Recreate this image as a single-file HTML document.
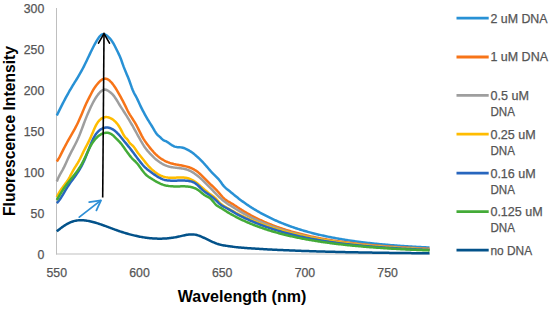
<!DOCTYPE html>
<html><head><meta charset="utf-8"><style>
html,body{margin:0;padding:0;background:#fff;overflow:hidden;width:550px;height:309px;}
svg{display:block;}
text{font-family:"Liberation Sans", sans-serif;}
</style></head><body>
<svg width="550" height="309" viewBox="0 0 550 309">
<rect width="550" height="309" fill="#fff"/>
<g stroke="#BFBFBF" stroke-width="1" fill="none">
<line x1="56.5" y1="8" x2="56.5" y2="254.5"/>
<line x1="56" y1="254" x2="430" y2="254"/>
</g>
<g font-size="12.3" fill="#555" stroke="#555" stroke-width="0.25">
<text x="44.3" y="12.5" text-anchor="end">300</text>
<text x="44.3" y="53.6" text-anchor="end">250</text>
<text x="44.3" y="94.7" text-anchor="end">200</text>
<text x="44.3" y="135.8" text-anchor="end">150</text>
<text x="44.3" y="176.9" text-anchor="end">100</text>
<text x="44.3" y="218.0" text-anchor="end">50</text>
<text x="44.3" y="259.1" text-anchor="end">0</text>
<text x="56.8" y="276.5" text-anchor="middle">550</text>
<text x="139.5" y="276.5" text-anchor="middle">600</text>
<text x="222.2" y="276.5" text-anchor="middle">650</text>
<text x="304.9" y="276.5" text-anchor="middle">700</text>
<text x="387.6" y="276.5" text-anchor="middle">750</text>

</g>
<g fill="none" stroke-width="2.5" stroke-linejoin="round" stroke-linecap="butt">
<path d="M56.80 115.50 L57.80 113.44 L58.80 111.40 L59.80 109.38 L60.80 107.37 L61.80 105.39 L62.80 103.43 L63.80 101.50 L64.80 99.59 L65.80 97.71 L66.80 95.85 L67.80 94.03 L68.80 92.24 L69.80 90.49 L70.80 88.77 L71.80 87.08 L72.80 85.43 L73.80 83.81 L74.80 82.20 L75.80 80.59 L76.80 78.97 L77.80 77.33 L78.80 75.67 L79.80 73.97 L80.80 72.21 L81.80 70.40 L82.80 68.51 L83.80 66.56 L84.80 64.55 L85.80 62.50 L86.80 60.42 L87.80 58.32 L88.80 56.21 L89.80 54.11 L90.80 52.03 L91.80 49.98 L92.80 47.98 L93.80 46.03 L94.80 44.16 L95.80 42.36 L96.80 40.66 L97.80 39.07 L98.80 37.60 L99.80 36.33 L100.80 35.29 L101.80 34.54 L102.80 34.15 L103.80 34.13 L104.80 34.41 L105.80 34.92 L106.80 35.59 L107.80 36.38 L108.80 37.30 L109.80 38.36 L110.80 39.56 L111.80 40.92 L112.80 42.45 L113.80 44.15 L114.80 46.00 L115.80 47.96 L116.80 49.99 L117.80 52.04 L118.80 54.10 L119.80 56.27 L120.80 58.70 L121.80 61.47 L122.80 64.38 L123.80 67.13 L124.80 69.66 L125.80 72.05 L126.80 74.39 L127.80 76.77 L128.80 79.27 L129.80 81.98 L130.80 84.84 L131.80 87.68 L132.80 90.28 L133.80 92.49 L134.80 94.35 L135.80 96.11 L136.80 98.00 L137.80 100.12 L138.80 102.36 L139.80 104.56 L140.80 106.65 L141.80 108.66 L142.80 110.59 L143.80 112.46 L144.80 114.28 L145.80 116.07 L146.80 117.82 L147.80 119.53 L148.80 121.20 L149.80 122.81 L150.80 124.40 L151.80 126.00 L152.80 127.64 L153.80 129.35 L154.80 131.07 L155.80 132.67 L156.80 134.05 L157.80 135.15 L158.80 136.07 L159.80 136.91 L160.80 137.79 L161.80 138.77 L162.80 139.71 L163.80 140.38 L164.80 140.79 L165.80 141.19 L166.80 141.71 L167.80 142.32 L168.80 143.00 L169.80 143.71 L170.80 144.41 L171.80 145.09 L172.80 145.70 L173.80 146.22 L174.80 146.62 L175.80 146.88 L176.80 147.05 L177.80 147.15 L178.80 147.22 L179.80 147.28 L180.80 147.38 L181.80 147.54 L182.80 147.76 L183.80 148.05 L184.80 148.41 L185.80 148.82 L186.80 149.28 L187.80 149.80 L188.80 150.37 L189.80 150.98 L190.80 151.64 L191.80 152.34 L192.80 153.07 L193.80 153.84 L194.80 154.64 L195.80 155.47 L196.80 156.34 L197.80 157.24 L198.80 158.17 L199.80 159.13 L200.80 160.12 L201.80 161.13 L202.80 162.18 L203.80 163.25 L204.80 164.34 L205.80 165.46 L206.80 166.60 L207.80 167.77 L208.80 168.94 L209.80 170.11 L210.80 171.26 L211.80 172.38 L212.80 173.45 L213.80 174.47 L214.80 175.43 L215.80 176.38 L216.80 177.34 L217.80 178.36 L218.80 179.46 L219.80 180.69 L220.80 182.07 L221.80 183.51 L222.80 184.90 L223.80 186.12 L224.80 187.16 L225.80 188.10 L226.80 188.95 L227.80 189.76 L228.80 190.55 L229.80 191.35 L230.80 192.16 L231.80 192.98 L232.80 193.80 L233.80 194.63 L234.80 195.46 L235.80 196.28 L236.80 197.08 L237.80 197.86 L238.80 198.64 L239.80 199.40 L240.80 200.15 L241.80 200.89 L242.80 201.62 L243.80 202.34 L244.80 203.05 L245.80 203.74 L246.80 204.43 L247.80 205.11 L248.80 205.77 L249.80 206.43 L250.80 207.08 L251.80 207.71 L252.80 208.34 L253.80 208.96 L254.80 209.57 L255.80 210.17 L256.80 210.76 L257.80 211.35 L258.80 211.92 L259.80 212.49 L260.80 213.05 L261.80 213.60 L262.80 214.14 L263.80 214.67 L264.80 215.20 L265.80 215.72 L266.80 216.23 L267.80 216.73 L268.80 217.23 L269.80 217.72 L270.80 218.20 L271.80 218.67 L272.80 219.14 L273.80 219.60 L274.80 220.06 L275.80 220.50 L276.80 220.95 L277.80 221.38 L278.80 221.81 L279.80 222.23 L280.80 222.65 L281.80 223.06 L282.80 223.46 L283.80 223.86 L284.80 224.25 L285.80 224.64 L286.80 225.02 L287.80 225.39 L288.80 225.76 L289.80 226.12 L290.80 226.48 L291.80 226.84 L292.80 227.19 L293.80 227.53 L294.80 227.87 L295.80 228.20 L296.80 228.53 L297.80 228.85 L298.80 229.17 L299.80 229.49 L300.80 229.80 L301.80 230.10 L302.80 230.40 L303.80 230.70 L304.80 230.99 L305.80 231.28 L306.80 231.56 L307.80 231.84 L308.80 232.12 L309.80 232.39 L310.80 232.65 L311.80 232.92 L312.80 233.18 L313.80 233.43 L314.80 233.68 L315.80 233.93 L316.80 234.18 L317.80 234.42 L318.80 234.66 L319.80 234.89 L320.80 235.12 L321.80 235.35 L322.80 235.57 L323.80 235.79 L324.80 236.01 L325.80 236.23 L326.80 236.44 L327.80 236.64 L328.80 236.85 L329.80 237.05 L330.80 237.25 L331.80 237.45 L332.80 237.64 L333.80 237.83 L334.80 238.02 L335.80 238.20 L336.80 238.39 L337.80 238.57 L338.80 238.74 L339.80 238.92 L340.80 239.09 L341.80 239.26 L342.80 239.42 L343.80 239.59 L344.80 239.75 L345.80 239.91 L346.80 240.07 L347.80 240.22 L348.80 240.38 L349.80 240.53 L350.80 240.67 L351.80 240.82 L352.80 240.97 L353.80 241.11 L354.80 241.25 L355.80 241.38 L356.80 241.52 L357.80 241.65 L358.80 241.79 L359.80 241.92 L360.80 242.04 L361.80 242.17 L362.80 242.29 L363.80 242.42 L364.80 242.54 L365.80 242.66 L366.80 242.77 L367.80 242.89 L368.80 243.00 L369.80 243.11 L370.80 243.23 L371.80 243.33 L372.80 243.44 L373.80 243.55 L374.80 243.65 L375.80 243.75 L376.80 243.86 L377.80 243.95 L378.80 244.05 L379.80 244.15 L380.80 244.25 L381.80 244.34 L382.80 244.43 L383.80 244.52 L384.80 244.61 L385.80 244.70 L386.80 244.79 L387.80 244.87 L388.80 244.96 L389.80 245.04 L390.80 245.13 L391.80 245.21 L392.80 245.29 L393.80 245.37 L394.80 245.44 L395.80 245.52 L396.80 245.59 L397.80 245.67 L398.80 245.74 L399.80 245.81 L400.80 245.88 L401.80 245.95 L402.80 246.02 L403.80 246.09 L404.80 246.16 L405.80 246.22 L406.80 246.29 L407.80 246.35 L408.80 246.42 L409.80 246.48 L410.80 246.54 L411.80 246.60 L412.80 246.66 L413.80 246.72 L414.80 246.78 L415.80 246.83 L416.80 246.89 L417.80 246.95 L418.80 247.00 L419.80 247.05 L420.80 247.11 L421.80 247.16 L422.80 247.21 L423.80 247.26 L424.80 247.31 L425.80 247.36 L426.80 247.41 L427.80 247.46 L428.80 247.50 L429.50 247.54" stroke="#2891D5"/>
<path d="M56.80 161.50 L57.80 160.01 L58.80 158.35 L59.80 156.55 L60.80 154.65 L61.80 152.68 L62.80 150.67 L63.80 148.68 L64.80 146.72 L65.80 144.83 L66.80 142.99 L67.80 141.20 L68.80 139.43 L69.80 137.69 L70.80 135.95 L71.80 134.20 L72.80 132.44 L73.80 130.65 L74.80 128.81 L75.80 126.92 L76.80 124.96 L77.80 122.93 L78.80 120.80 L79.80 118.57 L80.80 116.26 L81.80 113.89 L82.80 111.50 L83.80 109.12 L84.80 106.78 L85.80 104.51 L86.80 102.34 L87.80 100.30 L88.80 98.34 L89.80 96.43 L90.80 94.50 L91.80 92.54 L92.80 90.67 L93.80 88.97 L94.80 87.44 L95.80 86.03 L96.80 84.75 L97.80 83.56 L98.80 82.45 L99.80 81.44 L100.80 80.54 L101.80 79.79 L102.80 79.20 L103.80 78.80 L104.80 78.62 L105.80 78.66 L106.80 78.92 L107.80 79.37 L108.80 80.00 L109.80 80.81 L110.80 81.78 L111.80 82.89 L112.80 84.13 L113.80 85.49 L114.80 86.95 L115.80 88.51 L116.80 90.14 L117.80 91.84 L118.80 93.59 L119.80 95.38 L120.80 97.20 L121.80 99.04 L122.80 100.92 L123.80 102.85 L124.80 104.83 L125.80 106.88 L126.80 108.95 L127.80 110.98 L128.80 112.88 L129.80 114.59 L130.80 116.16 L131.80 117.68 L132.80 119.22 L133.80 120.80 L134.80 122.44 L135.80 124.16 L136.80 125.96 L137.80 127.87 L138.80 129.86 L139.80 131.88 L140.80 133.89 L141.80 135.83 L142.80 137.65 L143.80 139.33 L144.80 140.89 L145.80 142.35 L146.80 143.73 L147.80 145.06 L148.80 146.35 L149.80 147.61 L150.80 148.84 L151.80 150.02 L152.80 151.17 L153.80 152.27 L154.80 153.31 L155.80 154.31 L156.80 155.25 L157.80 156.12 L158.80 156.94 L159.80 157.71 L160.80 158.42 L161.80 159.09 L162.80 159.70 L163.80 160.27 L164.80 160.80 L165.80 161.29 L166.80 161.74 L167.80 162.15 L168.80 162.53 L169.80 162.88 L170.80 163.20 L171.80 163.49 L172.80 163.76 L173.80 164.01 L174.80 164.23 L175.80 164.44 L176.80 164.64 L177.80 164.82 L178.80 165.00 L179.80 165.17 L180.80 165.34 L181.80 165.52 L182.80 165.70 L183.80 165.90 L184.80 166.11 L185.80 166.35 L186.80 166.60 L187.80 166.89 L188.80 167.20 L189.80 167.55 L190.80 167.94 L191.80 168.37 L192.80 168.85 L193.80 169.38 L194.80 169.96 L195.80 170.60 L196.80 171.30 L197.80 172.07 L198.80 172.89 L199.80 173.76 L200.80 174.67 L201.80 175.62 L202.80 176.60 L203.80 177.59 L204.80 178.60 L205.80 179.61 L206.80 180.62 L207.80 181.62 L208.80 182.61 L209.80 183.58 L210.80 184.54 L211.80 185.50 L212.80 186.46 L213.80 187.43 L214.80 188.41 L215.80 189.41 L216.80 190.44 L217.80 191.51 L218.80 192.61 L219.80 193.75 L220.80 194.95 L221.80 196.15 L222.80 197.27 L223.80 198.26 L224.80 199.12 L225.80 199.89 L226.80 200.58 L227.80 201.22 L228.80 201.82 L229.80 202.40 L230.80 202.99 L231.80 203.58 L232.80 204.18 L233.80 204.81 L234.80 205.45 L235.80 206.13 L236.80 206.80 L237.80 207.47 L238.80 208.12 L239.80 208.77 L240.80 209.40 L241.80 210.03 L242.80 210.64 L243.80 211.25 L244.80 211.84 L245.80 212.43 L246.80 213.01 L247.80 213.58 L248.80 214.14 L249.80 214.69 L250.80 215.24 L251.80 215.77 L252.80 216.30 L253.80 216.82 L254.80 217.33 L255.80 217.83 L256.80 218.33 L257.80 218.81 L258.80 219.30 L259.80 219.77 L260.80 220.23 L261.80 220.69 L262.80 221.15 L263.80 221.59 L264.80 222.03 L265.80 222.46 L266.80 222.89 L267.80 223.30 L268.80 223.72 L269.80 224.12 L270.80 224.52 L271.80 224.91 L272.80 225.30 L273.80 225.68 L274.80 226.06 L275.80 226.43 L276.80 226.80 L277.80 227.15 L278.80 227.51 L279.80 227.86 L280.80 228.20 L281.80 228.54 L282.80 228.87 L283.80 229.20 L284.80 229.52 L285.80 229.84 L286.80 230.15 L287.80 230.46 L288.80 230.77 L289.80 231.06 L290.80 231.36 L291.80 231.65 L292.80 231.94 L293.80 232.22 L294.80 232.50 L295.80 232.77 L296.80 233.04 L297.80 233.30 L298.80 233.56 L299.80 233.82 L300.80 234.08 L301.80 234.33 L302.80 234.57 L303.80 234.81 L304.80 235.05 L305.80 235.29 L306.80 235.52 L307.80 235.75 L308.80 235.97 L309.80 236.19 L310.80 236.41 L311.80 236.63 L312.80 236.84 L313.80 237.05 L314.80 237.25 L315.80 237.46 L316.80 237.66 L317.80 237.85 L318.80 238.05 L319.80 238.24 L320.80 238.43 L321.80 238.61 L322.80 238.79 L323.80 238.97 L324.80 239.15 L325.80 239.33 L326.80 239.50 L327.80 239.67 L328.80 239.84 L329.80 240.00 L330.80 240.16 L331.80 240.32 L332.80 240.48 L333.80 240.64 L334.80 240.79 L335.80 240.94 L336.80 241.09 L337.80 241.24 L338.80 241.38 L339.80 241.52 L340.80 241.66 L341.80 241.80 L342.80 241.94 L343.80 242.07 L344.80 242.21 L345.80 242.34 L346.80 242.47 L347.80 242.59 L348.80 242.72 L349.80 242.84 L350.80 242.96 L351.80 243.08 L352.80 243.20 L353.80 243.32 L354.80 243.43 L355.80 243.55 L356.80 243.66 L357.80 243.77 L358.80 243.88 L359.80 243.99 L360.80 244.09 L361.80 244.20 L362.80 244.30 L363.80 244.40 L364.80 244.50 L365.80 244.60 L366.80 244.70 L367.80 244.79 L368.80 244.89 L369.80 244.98 L370.80 245.07 L371.80 245.16 L372.80 245.25 L373.80 245.34 L374.80 245.43 L375.80 245.51 L376.80 245.60 L377.80 245.68 L378.80 245.76 L379.80 245.84 L380.80 245.92 L381.80 246.00 L382.80 246.08 L383.80 246.16 L384.80 246.23 L385.80 246.31 L386.80 246.38 L387.80 246.46 L388.80 246.53 L389.80 246.60 L390.80 246.67 L391.80 246.74 L392.80 246.81 L393.80 246.88 L394.80 246.94 L395.80 247.01 L396.80 247.07 L397.80 247.14 L398.80 247.20 L399.80 247.26 L400.80 247.32 L401.80 247.38 L402.80 247.44 L403.80 247.50 L404.80 247.56 L405.80 247.62 L406.80 247.68 L407.80 247.73 L408.80 247.79 L409.80 247.84 L410.80 247.90 L411.80 247.95 L412.80 248.00 L413.80 248.06 L414.80 248.11 L415.80 248.16 L416.80 248.21 L417.80 248.26 L418.80 248.31 L419.80 248.36 L420.80 248.41 L421.80 248.45 L422.80 248.50 L423.80 248.55 L424.80 248.59 L425.80 248.64 L426.80 248.68 L427.80 248.72 L428.80 248.77 L429.50 248.80" stroke="#F77418"/>
<path d="M56.80 181.50 L57.80 178.99 L58.80 176.82 L59.80 174.89 L60.80 173.10 L61.80 171.36 L62.80 169.59 L63.80 167.68 L64.80 165.62 L65.80 163.47 L66.80 161.26 L67.80 159.05 L68.80 156.90 L69.80 154.84 L70.80 152.87 L71.80 150.95 L72.80 149.05 L73.80 147.16 L74.80 145.24 L75.80 143.28 L76.80 141.23 L77.80 139.09 L78.80 136.81 L79.80 134.38 L80.80 131.81 L81.80 129.15 L82.80 126.46 L83.80 123.79 L84.80 121.17 L85.80 118.62 L86.80 116.14 L87.80 113.73 L88.80 111.41 L89.80 109.17 L90.80 107.01 L91.80 104.96 L92.80 103.00 L93.80 101.14 L94.80 99.40 L95.80 97.76 L96.80 96.25 L97.80 94.86 L98.80 93.60 L99.80 92.48 L100.80 91.50 L101.80 90.71 L102.80 90.11 L103.80 89.74 L104.80 89.61 L105.80 89.73 L106.80 90.06 L107.80 90.56 L108.80 91.19 L109.80 91.91 L110.80 92.72 L111.80 93.64 L112.80 94.68 L113.80 95.86 L114.80 97.20 L115.80 98.68 L116.80 100.27 L117.80 101.92 L118.80 103.60 L119.80 105.25 L120.80 106.85 L121.80 108.40 L122.80 109.92 L123.80 111.46 L124.80 113.01 L125.80 114.58 L126.80 116.18 L127.80 117.79 L128.80 119.43 L129.80 121.09 L130.80 122.78 L131.80 124.50 L132.80 126.24 L133.80 128.02 L134.80 129.82 L135.80 131.66 L136.80 133.50 L137.80 135.34 L138.80 137.17 L139.80 138.97 L140.80 140.74 L141.80 142.45 L142.80 144.11 L143.80 145.70 L144.80 147.20 L145.80 148.60 L146.80 149.90 L147.80 151.09 L148.80 152.20 L149.80 153.28 L150.80 154.34 L151.80 155.39 L152.80 156.42 L153.80 157.41 L154.80 158.35 L155.80 159.23 L156.80 160.07 L157.80 160.85 L158.80 161.59 L159.80 162.28 L160.80 162.92 L161.80 163.52 L162.80 164.07 L163.80 164.58 L164.80 165.05 L165.80 165.47 L166.80 165.85 L167.80 166.19 L168.80 166.49 L169.80 166.76 L170.80 166.98 L171.80 167.18 L172.80 167.35 L173.80 167.49 L174.80 167.62 L175.80 167.74 L176.80 167.85 L177.80 167.95 L178.80 168.06 L179.80 168.17 L180.80 168.30 L181.80 168.44 L182.80 168.61 L183.80 168.79 L184.80 169.01 L185.80 169.27 L186.80 169.56 L187.80 169.90 L188.80 170.29 L189.80 170.74 L190.80 171.23 L191.80 171.78 L192.80 172.37 L193.80 173.01 L194.80 173.69 L195.80 174.41 L196.80 175.17 L197.80 175.96 L198.80 176.79 L199.80 177.64 L200.80 178.53 L201.80 179.44 L202.80 180.37 L203.80 181.33 L204.80 182.30 L205.80 183.29 L206.80 184.30 L207.80 185.31 L208.80 186.34 L209.80 187.37 L210.80 188.40 L211.80 189.44 L212.80 190.47 L213.80 191.51 L214.80 192.53 L215.80 193.55 L216.80 194.56 L217.80 195.56 L218.80 196.54 L219.80 197.50 L220.80 198.44 L221.80 199.36 L222.80 200.24 L223.80 201.06 L224.80 201.84 L225.80 202.58 L226.80 203.28 L227.80 203.95 L228.80 204.58 L229.80 205.19 L230.80 205.79 L231.80 206.40 L232.80 207.01 L233.80 207.63 L234.80 208.28 L235.80 208.94 L236.80 209.56 L237.80 210.17 L238.80 210.77 L239.80 211.35 L240.80 211.94 L241.80 212.51 L242.80 213.07 L243.80 213.63 L244.80 214.17 L245.80 214.71 L246.80 215.25 L247.80 215.77 L248.80 216.29 L249.80 216.80 L250.80 217.30 L251.80 217.79 L252.80 218.28 L253.80 218.76 L254.80 219.24 L255.80 219.70 L256.80 220.16 L257.80 220.62 L258.80 221.06 L259.80 221.50 L260.80 221.94 L261.80 222.37 L262.80 222.79 L263.80 223.21 L264.80 223.62 L265.80 224.02 L266.80 224.42 L267.80 224.81 L268.80 225.20 L269.80 225.58 L270.80 225.96 L271.80 226.33 L272.80 226.69 L273.80 227.05 L274.80 227.41 L275.80 227.76 L276.80 228.10 L277.80 228.44 L278.80 228.78 L279.80 229.11 L280.80 229.43 L281.80 229.75 L282.80 230.07 L283.80 230.38 L284.80 230.69 L285.80 230.99 L286.80 231.29 L287.80 231.58 L288.80 231.87 L289.80 232.16 L290.80 232.44 L291.80 232.72 L292.80 232.99 L293.80 233.26 L294.80 233.53 L295.80 233.79 L296.80 234.05 L297.80 234.30 L298.80 234.55 L299.80 234.80 L300.80 235.05 L301.80 235.29 L302.80 235.52 L303.80 235.76 L304.80 235.99 L305.80 236.21 L306.80 236.44 L307.80 236.66 L308.80 236.88 L309.80 237.09 L310.80 237.30 L311.80 237.51 L312.80 237.71 L313.80 237.92 L314.80 238.11 L315.80 238.31 L316.80 238.50 L317.80 238.70 L318.80 238.88 L319.80 239.07 L320.80 239.25 L321.80 239.43 L322.80 239.61 L323.80 239.78 L324.80 239.96 L325.80 240.13 L326.80 240.29 L327.80 240.46 L328.80 240.62 L329.80 240.78 L330.80 240.94 L331.80 241.10 L332.80 241.25 L333.80 241.40 L334.80 241.55 L335.80 241.70 L336.80 241.84 L337.80 241.99 L338.80 242.13 L339.80 242.27 L340.80 242.40 L341.80 242.54 L342.80 242.67 L343.80 242.80 L344.80 242.93 L345.80 243.06 L346.80 243.18 L347.80 243.31 L348.80 243.43 L349.80 243.55 L350.80 243.67 L351.80 243.78 L352.80 243.90 L353.80 244.01 L354.80 244.12 L355.80 244.23 L356.80 244.34 L357.80 244.45 L358.80 244.56 L359.80 244.66 L360.80 244.76 L361.80 244.86 L362.80 244.96 L363.80 245.06 L364.80 245.16 L365.80 245.25 L366.80 245.35 L367.80 245.44 L368.80 245.53 L369.80 245.62 L370.80 245.71 L371.80 245.80 L372.80 245.88 L373.80 245.97 L374.80 246.05 L375.80 246.14 L376.80 246.22 L377.80 246.30 L378.80 246.38 L379.80 246.45 L380.80 246.53 L381.80 246.61 L382.80 246.68 L383.80 246.75 L384.80 246.83 L385.80 246.90 L386.80 246.97 L387.80 247.04 L388.80 247.11 L389.80 247.17 L390.80 247.24 L391.80 247.31 L392.80 247.37 L393.80 247.43 L394.80 247.50 L395.80 247.56 L396.80 247.62 L397.80 247.68 L398.80 247.74 L399.80 247.80 L400.80 247.86 L401.80 247.91 L402.80 247.97 L403.80 248.02 L404.80 248.08 L405.80 248.13 L406.80 248.18 L407.80 248.24 L408.80 248.29 L409.80 248.34 L410.80 248.39 L411.80 248.44 L412.80 248.49 L413.80 248.53 L414.80 248.58 L415.80 248.63 L416.80 248.67 L417.80 248.72 L418.80 248.76 L419.80 248.80 L420.80 248.85 L421.80 248.89 L422.80 248.93 L423.80 248.97 L424.80 249.01 L425.80 249.05 L426.80 249.09 L427.80 249.13 L428.80 249.17 L429.50 249.20" stroke="#9E9E9E"/>
<path d="M56.80 197.00 L57.80 194.99 L58.80 193.17 L59.80 191.50 L60.80 189.95 L61.80 188.50 L62.80 187.12 L63.80 185.77 L64.80 184.43 L65.80 183.07 L66.80 181.66 L67.80 180.16 L68.80 178.55 L69.80 176.81 L70.80 174.94 L71.80 173.03 L72.80 171.13 L73.80 169.33 L74.80 167.65 L75.80 166.05 L76.80 164.48 L77.80 162.86 L78.80 161.13 L79.80 159.26 L80.80 157.27 L81.80 155.21 L82.80 153.13 L83.80 151.07 L84.80 149.07 L85.80 147.13 L86.80 145.22 L87.80 143.30 L88.80 141.33 L89.80 139.28 L90.80 137.12 L91.80 134.82 L92.80 132.40 L93.80 129.98 L94.80 127.69 L95.80 125.65 L96.80 123.87 L97.80 122.34 L98.80 121.05 L99.80 119.97 L100.80 119.09 L101.80 118.39 L102.80 117.86 L103.80 117.48 L104.80 117.23 L105.80 117.11 L106.80 117.12 L107.80 117.25 L108.80 117.49 L109.80 117.85 L110.80 118.31 L111.80 118.88 L112.80 119.56 L113.80 120.33 L114.80 121.20 L115.80 122.19 L116.80 123.30 L117.80 124.57 L118.80 126.00 L119.80 127.61 L120.80 129.42 L121.80 131.41 L122.80 133.42 L123.80 135.29 L124.80 136.80 L125.80 137.83 L126.80 138.68 L127.80 139.97 L128.80 141.62 L129.80 143.09 L130.80 144.10 L131.80 144.88 L132.80 145.74 L133.80 146.88 L134.80 148.23 L135.80 149.71 L136.80 151.22 L137.80 152.67 L138.80 153.97 L139.80 155.19 L140.80 156.42 L141.80 157.70 L142.80 159.00 L143.80 160.31 L144.80 161.60 L145.80 162.85 L146.80 164.06 L147.80 165.22 L148.80 166.34 L149.80 167.39 L150.80 168.40 L151.80 169.35 L152.80 170.25 L153.80 171.10 L154.80 171.89 L155.80 172.64 L156.80 173.33 L157.80 173.96 L158.80 174.55 L159.80 175.08 L160.80 175.56 L161.80 175.99 L162.80 176.37 L163.80 176.69 L164.80 176.97 L165.80 177.20 L166.80 177.39 L167.80 177.53 L168.80 177.64 L169.80 177.72 L170.80 177.76 L171.80 177.77 L172.80 177.77 L173.80 177.75 L174.80 177.71 L175.80 177.67 L176.80 177.62 L177.80 177.58 L178.80 177.54 L179.80 177.51 L180.80 177.50 L181.80 177.51 L182.80 177.54 L183.80 177.61 L184.80 177.71 L185.80 177.85 L186.80 178.03 L187.80 178.26 L188.80 178.55 L189.80 178.89 L190.80 179.30 L191.80 179.77 L192.80 180.31 L193.80 180.92 L194.80 181.58 L195.80 182.29 L196.80 183.04 L197.80 183.83 L198.80 184.65 L199.80 185.49 L200.80 186.35 L201.80 187.22 L202.80 188.10 L203.80 188.98 L204.80 189.85 L205.80 190.71 L206.80 191.55 L207.80 192.36 L208.80 193.14 L209.80 193.88 L210.80 194.59 L211.80 195.29 L212.80 196.01 L213.80 196.77 L214.80 197.61 L215.80 198.54 L216.80 199.59 L217.80 200.71 L218.80 201.83 L219.80 202.89 L220.80 203.82 L221.80 204.63 L222.80 205.33 L223.80 205.96 L224.80 206.56 L225.80 207.14 L226.80 207.73 L227.80 208.32 L228.80 208.90 L229.80 209.49 L230.80 210.06 L231.80 210.63 L232.80 211.18 L233.80 211.72 L234.80 212.25 L235.80 212.76 L236.80 213.28 L237.80 213.79 L238.80 214.29 L239.80 214.79 L240.80 215.28 L241.80 215.76 L242.80 216.24 L243.80 216.71 L244.80 217.17 L245.80 217.63 L246.80 218.09 L247.80 218.53 L248.80 218.98 L249.80 219.41 L250.80 219.84 L251.80 220.27 L252.80 220.69 L253.80 221.10 L254.80 221.51 L255.80 221.91 L256.80 222.31 L257.80 222.70 L258.80 223.09 L259.80 223.47 L260.80 223.85 L261.80 224.22 L262.80 224.59 L263.80 224.96 L264.80 225.32 L265.80 225.67 L266.80 226.02 L267.80 226.37 L268.80 226.71 L269.80 227.04 L270.80 227.38 L271.80 227.70 L272.80 228.03 L273.80 228.35 L274.80 228.66 L275.80 228.97 L276.80 229.28 L277.80 229.58 L278.80 229.88 L279.80 230.18 L280.80 230.47 L281.80 230.76 L282.80 231.04 L283.80 231.32 L284.80 231.60 L285.80 231.88 L286.80 232.15 L287.80 232.41 L288.80 232.68 L289.80 232.93 L290.80 233.19 L291.80 233.44 L292.80 233.69 L293.80 233.94 L294.80 234.18 L295.80 234.43 L296.80 234.66 L297.80 234.90 L298.80 235.13 L299.80 235.36 L300.80 235.58 L301.80 235.80 L302.80 236.02 L303.80 236.24 L304.80 236.45 L305.80 236.67 L306.80 236.87 L307.80 237.08 L308.80 237.28 L309.80 237.48 L310.80 237.68 L311.80 237.88 L312.80 238.07 L313.80 238.26 L314.80 238.45 L315.80 238.63 L316.80 238.82 L317.80 239.00 L318.80 239.18 L319.80 239.35 L320.80 239.53 L321.80 239.70 L322.80 239.87 L323.80 240.04 L324.80 240.20 L325.80 240.36 L326.80 240.53 L327.80 240.68 L328.80 240.84 L329.80 241.00 L330.80 241.15 L331.80 241.30 L332.80 241.45 L333.80 241.60 L334.80 241.74 L335.80 241.88 L336.80 242.03 L337.80 242.17 L338.80 242.30 L339.80 242.44 L340.80 242.57 L341.80 242.71 L342.80 242.84 L343.80 242.97 L344.80 243.09 L345.80 243.22 L346.80 243.34 L347.80 243.47 L348.80 243.59 L349.80 243.71 L350.80 243.83 L351.80 243.94 L352.80 244.06 L353.80 244.17 L354.80 244.28 L355.80 244.39 L356.80 244.50 L357.80 244.61 L358.80 244.72 L359.80 244.82 L360.80 244.93 L361.80 245.03 L362.80 245.13 L363.80 245.23 L364.80 245.33 L365.80 245.43 L366.80 245.52 L367.80 245.62 L368.80 245.71 L369.80 245.80 L370.80 245.89 L371.80 245.98 L372.80 246.07 L373.80 246.16 L374.80 246.25 L375.80 246.33 L376.80 246.42 L377.80 246.50 L378.80 246.58 L379.80 246.66 L380.80 246.74 L381.80 246.82 L382.80 246.90 L383.80 246.98 L384.80 247.05 L385.80 247.13 L386.80 247.20 L387.80 247.27 L388.80 247.35 L389.80 247.42 L390.80 247.49 L391.80 247.56 L392.80 247.63 L393.80 247.69 L394.80 247.76 L395.80 247.83 L396.80 247.89 L397.80 247.96 L398.80 248.02 L399.80 248.08 L400.80 248.14 L401.80 248.21 L402.80 248.27 L403.80 248.32 L404.80 248.38 L405.80 248.44 L406.80 248.50 L407.80 248.56 L408.80 248.61 L409.80 248.67 L410.80 248.72 L411.80 248.77 L412.80 248.83 L413.80 248.88 L414.80 248.93 L415.80 248.98 L416.80 249.03 L417.80 249.08 L418.80 249.13 L419.80 249.18 L420.80 249.23 L421.80 249.27 L422.80 249.32 L423.80 249.37 L424.80 249.41 L425.80 249.46 L426.80 249.50 L427.80 249.54 L428.80 249.59 L429.50 249.62" stroke="#FFBC00"/>
<path d="M56.80 203.02 L57.80 202.02 L58.80 200.84 L59.80 199.49 L60.80 198.01 L61.80 196.43 L62.80 194.78 L63.80 193.08 L64.80 191.37 L65.80 189.68 L66.80 188.03 L67.80 186.45 L68.80 184.95 L69.80 183.51 L70.80 182.11 L71.80 180.74 L72.80 179.39 L73.80 178.04 L74.80 176.67 L75.80 175.28 L76.80 173.85 L77.80 172.36 L78.80 170.80 L79.80 169.16 L80.80 167.42 L81.80 165.56 L82.80 163.58 L83.80 161.45 L84.80 159.18 L85.80 156.77 L86.80 154.28 L87.80 151.74 L88.80 149.18 L89.80 146.65 L90.80 144.20 L91.80 141.84 L92.80 139.63 L93.80 137.61 L94.80 135.81 L95.80 134.27 L96.80 132.98 L97.80 131.87 L98.80 130.91 L99.80 130.08 L100.80 129.36 L101.80 128.77 L102.80 128.28 L103.80 127.92 L104.80 127.66 L105.80 127.51 L106.80 127.47 L107.80 127.54 L108.80 127.70 L109.80 127.97 L110.80 128.34 L111.80 128.80 L112.80 129.36 L113.80 130.01 L114.80 130.76 L115.80 131.59 L116.80 132.52 L117.80 133.53 L118.80 134.62 L119.80 135.79 L120.80 136.99 L121.80 138.21 L122.80 139.44 L123.80 140.68 L124.80 141.92 L125.80 143.15 L126.80 144.38 L127.80 145.61 L128.80 146.84 L129.80 148.09 L130.80 149.35 L131.80 150.64 L132.80 151.97 L133.80 153.31 L134.80 154.66 L135.80 156.02 L136.80 157.38 L137.80 158.72 L138.80 160.05 L139.80 161.34 L140.80 162.60 L141.80 163.81 L142.80 164.97 L143.80 166.07 L144.80 167.10 L145.80 168.04 L146.80 168.91 L147.80 169.71 L148.80 170.48 L149.80 171.22 L150.80 171.97 L151.80 172.71 L152.80 173.44 L153.80 174.17 L154.80 174.88 L155.80 175.56 L156.80 176.22 L157.80 176.85 L158.80 177.44 L159.80 177.99 L160.80 178.49 L161.80 178.94 L162.80 179.33 L163.80 179.66 L164.80 179.93 L165.80 180.15 L166.80 180.32 L167.80 180.45 L168.80 180.55 L169.80 180.62 L170.80 180.67 L171.80 180.69 L172.80 180.70 L173.80 180.70 L174.80 180.68 L175.80 180.66 L176.80 180.63 L177.80 180.59 L178.80 180.56 L179.80 180.54 L180.80 180.52 L181.80 180.51 L182.80 180.51 L183.80 180.53 L184.80 180.57 L185.80 180.63 L186.80 180.72 L187.80 180.83 L188.80 180.98 L189.80 181.16 L190.80 181.39 L191.80 181.67 L192.80 182.03 L193.80 182.47 L194.80 183.00 L195.80 183.65 L196.80 184.41 L197.80 185.29 L198.80 186.25 L199.80 187.25 L200.80 188.26 L201.80 189.22 L202.80 190.12 L203.80 190.95 L204.80 191.73 L205.80 192.47 L206.80 193.19 L207.80 193.88 L208.80 194.57 L209.80 195.27 L210.80 195.98 L211.80 196.72 L212.80 197.50 L213.80 198.33 L214.80 199.22 L215.80 200.17 L216.80 201.16 L217.80 202.16 L218.80 203.12 L219.80 204.01 L220.80 204.82 L221.80 205.53 L222.80 206.15 L223.80 206.71 L224.80 207.24 L225.80 207.75 L226.80 208.26 L227.80 208.79 L228.80 209.33 L229.80 209.89 L230.80 210.48 L231.80 211.08 L232.80 211.69 L233.80 212.29 L234.80 212.90 L235.80 213.49 L236.80 214.03 L237.80 214.56 L238.80 215.08 L239.80 215.59 L240.80 216.09 L241.80 216.59 L242.80 217.08 L243.80 217.57 L244.80 218.05 L245.80 218.52 L246.80 218.99 L247.80 219.45 L248.80 219.90 L249.80 220.35 L250.80 220.79 L251.80 221.22 L252.80 221.65 L253.80 222.07 L254.80 222.49 L255.80 222.90 L256.80 223.31 L257.80 223.71 L258.80 224.10 L259.80 224.49 L260.80 224.88 L261.80 225.25 L262.80 225.63 L263.80 226.00 L264.80 226.36 L265.80 226.72 L266.80 227.07 L267.80 227.42 L268.80 227.77 L269.80 228.10 L270.80 228.44 L271.80 228.77 L272.80 229.10 L273.80 229.42 L274.80 229.73 L275.80 230.05 L276.80 230.35 L277.80 230.66 L278.80 230.96 L279.80 231.25 L280.80 231.55 L281.80 231.83 L282.80 232.12 L283.80 232.40 L284.80 232.67 L285.80 232.95 L286.80 233.22 L287.80 233.48 L288.80 233.74 L289.80 234.00 L290.80 234.25 L291.80 234.51 L292.80 234.75 L293.80 235.00 L294.80 235.24 L295.80 235.47 L296.80 235.71 L297.80 235.94 L298.80 236.17 L299.80 236.39 L300.80 236.61 L301.80 236.83 L302.80 237.05 L303.80 237.26 L304.80 237.47 L305.80 237.68 L306.80 237.88 L307.80 238.08 L308.80 238.28 L309.80 238.48 L310.80 238.67 L311.80 238.86 L312.80 239.05 L313.80 239.24 L314.80 239.42 L315.80 239.60 L316.80 239.78 L317.80 239.95 L318.80 240.13 L319.80 240.30 L320.80 240.47 L321.80 240.63 L322.80 240.80 L323.80 240.96 L324.80 241.12 L325.80 241.27 L326.80 241.43 L327.80 241.58 L328.80 241.73 L329.80 241.88 L330.80 242.03 L331.80 242.17 L332.80 242.32 L333.80 242.46 L334.80 242.60 L335.80 242.73 L336.80 242.87 L337.80 243.00 L338.80 243.13 L339.80 243.26 L340.80 243.39 L341.80 243.52 L342.80 243.64 L343.80 243.76 L344.80 243.89 L345.80 244.00 L346.80 244.12 L347.80 244.24 L348.80 244.35 L349.80 244.47 L350.80 244.58 L351.80 244.69 L352.80 244.80 L353.80 244.90 L354.80 245.01 L355.80 245.11 L356.80 245.22 L357.80 245.32 L358.80 245.42 L359.80 245.52 L360.80 245.61 L361.80 245.71 L362.80 245.80 L363.80 245.90 L364.80 245.99 L365.80 246.08 L366.80 246.17 L367.80 246.26 L368.80 246.34 L369.80 246.43 L370.80 246.52 L371.80 246.60 L372.80 246.68 L373.80 246.76 L374.80 246.84 L375.80 246.92 L376.80 247.00 L377.80 247.08 L378.80 247.15 L379.80 247.23 L380.80 247.30 L381.80 247.37 L382.80 247.45 L383.80 247.52 L384.80 247.59 L385.80 247.66 L386.80 247.72 L387.80 247.79 L388.80 247.86 L389.80 247.92 L390.80 247.99 L391.80 248.05 L392.80 248.11 L393.80 248.17 L394.80 248.24 L395.80 248.30 L396.80 248.36 L397.80 248.41 L398.80 248.47 L399.80 248.53 L400.80 248.58 L401.80 248.64 L402.80 248.69 L403.80 248.75 L404.80 248.80 L405.80 248.85 L406.80 248.91 L407.80 248.96 L408.80 249.01 L409.80 249.06 L410.80 249.11 L411.80 249.15 L412.80 249.20 L413.80 249.25 L414.80 249.29 L415.80 249.34 L416.80 249.38 L417.80 249.43 L418.80 249.47 L419.80 249.52 L420.80 249.56 L421.80 249.60 L422.80 249.64 L423.80 249.68 L424.80 249.72 L425.80 249.76 L426.80 249.80 L427.80 249.84 L428.80 249.88 L429.50 249.91" stroke="#2866BE"/>
<path d="M56.80 200.00 L57.80 198.32 L58.80 196.64 L59.80 194.96 L60.80 193.31 L61.80 191.69 L62.80 190.10 L63.80 188.55 L64.80 187.06 L65.80 185.63 L66.80 184.26 L67.80 182.96 L68.80 181.70 L69.80 180.47 L70.80 179.26 L71.80 178.05 L72.80 176.83 L73.80 175.59 L74.80 174.33 L75.80 173.02 L76.80 171.67 L77.80 170.27 L78.80 168.80 L79.80 167.25 L80.80 165.62 L81.80 163.90 L82.80 162.07 L83.80 160.14 L84.80 158.09 L85.80 155.94 L86.80 153.75 L87.80 151.58 L88.80 149.46 L89.80 147.46 L90.80 145.61 L91.80 143.92 L92.80 142.37 L93.80 140.96 L94.80 139.69 L95.80 138.54 L96.80 137.51 L97.80 136.59 L98.80 135.78 L99.80 135.07 L100.80 134.46 L101.80 133.93 L102.80 133.49 L103.80 133.14 L104.80 132.89 L105.80 132.75 L106.80 132.71 L107.80 132.79 L108.80 133.00 L109.80 133.33 L110.80 133.79 L111.80 134.39 L112.80 135.14 L113.80 136.03 L114.80 137.04 L115.80 138.04 L116.80 139.02 L117.80 140.01 L118.80 141.05 L119.80 142.15 L120.80 143.33 L121.80 144.60 L122.80 145.94 L123.80 147.33 L124.80 148.74 L125.80 150.18 L126.80 151.60 L127.80 153.00 L128.80 154.36 L129.80 155.66 L130.80 156.89 L131.80 158.01 L132.80 159.05 L133.80 160.03 L134.80 160.99 L135.80 162.00 L136.80 163.07 L137.80 164.26 L138.80 165.55 L139.80 166.90 L140.80 168.29 L141.80 169.68 L142.80 171.03 L143.80 172.31 L144.80 173.50 L145.80 174.55 L146.80 175.45 L147.80 176.24 L148.80 176.95 L149.80 177.62 L150.80 178.27 L151.80 178.91 L152.80 179.54 L153.80 180.15 L154.80 180.75 L155.80 181.33 L156.80 181.89 L157.80 182.42 L158.80 182.92 L159.80 183.40 L160.80 183.84 L161.80 184.24 L162.80 184.60 L163.80 184.93 L164.80 185.21 L165.80 185.46 L166.80 185.67 L167.80 185.85 L168.80 186.00 L169.80 186.12 L170.80 186.21 L171.80 186.29 L172.80 186.34 L173.80 186.38 L174.80 186.40 L175.80 186.41 L176.80 186.41 L177.80 186.41 L178.80 186.40 L179.80 186.38 L180.80 186.37 L181.80 186.36 L182.80 186.36 L183.80 186.36 L184.80 186.37 L185.80 186.40 L186.80 186.46 L187.80 186.53 L188.80 186.64 L189.80 186.79 L190.80 186.97 L191.80 187.20 L192.80 187.49 L193.80 187.82 L194.80 188.22 L195.80 188.69 L196.80 189.22 L197.80 189.83 L198.80 190.53 L199.80 191.30 L200.80 192.14 L201.80 193.00 L202.80 193.83 L203.80 194.59 L204.80 195.25 L205.80 195.80 L206.80 196.31 L207.80 196.81 L208.80 197.37 L209.80 198.04 L210.80 198.88 L211.80 199.91 L212.80 201.08 L213.80 202.30 L214.80 203.50 L215.80 204.58 L216.80 205.48 L217.80 206.19 L218.80 206.78 L219.80 207.34 L220.80 207.90 L221.80 208.50 L222.80 209.13 L223.80 209.77 L224.80 210.42 L225.80 211.06 L226.80 211.70 L227.80 212.32 L228.80 212.92 L229.80 213.51 L230.80 214.07 L231.80 214.63 L232.80 215.18 L233.80 215.73 L234.80 216.27 L235.80 216.81 L236.80 217.33 L237.80 217.84 L238.80 218.34 L239.80 218.83 L240.80 219.31 L241.80 219.79 L242.80 220.26 L243.80 220.72 L244.80 221.18 L245.80 221.63 L246.80 222.07 L247.80 222.50 L248.80 222.93 L249.80 223.35 L250.80 223.77 L251.80 224.18 L252.80 224.58 L253.80 224.97 L254.80 225.36 L255.80 225.75 L256.80 226.13 L257.80 226.50 L258.80 226.87 L259.80 227.23 L260.80 227.59 L261.80 227.94 L262.80 228.29 L263.80 228.63 L264.80 228.96 L265.80 229.29 L266.80 229.62 L267.80 229.94 L268.80 230.26 L269.80 230.57 L270.80 230.88 L271.80 231.18 L272.80 231.48 L273.80 231.77 L274.80 232.06 L275.80 232.35 L276.80 232.63 L277.80 232.91 L278.80 233.18 L279.80 233.45 L280.80 233.71 L281.80 233.97 L282.80 234.23 L283.80 234.49 L284.80 234.74 L285.80 234.98 L286.80 235.23 L287.80 235.47 L288.80 235.70 L289.80 235.94 L290.80 236.17 L291.80 236.39 L292.80 236.62 L293.80 236.84 L294.80 237.05 L295.80 237.27 L296.80 237.48 L297.80 237.69 L298.80 237.89 L299.80 238.09 L300.80 238.29 L301.80 238.49 L302.80 238.68 L303.80 238.87 L304.80 239.06 L305.80 239.25 L306.80 239.43 L307.80 239.61 L308.80 239.79 L309.80 239.96 L310.80 240.14 L311.80 240.31 L312.80 240.48 L313.80 240.64 L314.80 240.81 L315.80 240.97 L316.80 241.13 L317.80 241.29 L318.80 241.44 L319.80 241.59 L320.80 241.75 L321.80 241.89 L322.80 242.04 L323.80 242.19 L324.80 242.33 L325.80 242.47 L326.80 242.61 L327.80 242.75 L328.80 242.88 L329.80 243.01 L330.80 243.15 L331.80 243.28 L332.80 243.40 L333.80 243.53 L334.80 243.66 L335.80 243.78 L336.80 243.90 L337.80 244.02 L338.80 244.14 L339.80 244.26 L340.80 244.37 L341.80 244.48 L342.80 244.60 L343.80 244.71 L344.80 244.82 L345.80 244.92 L346.80 245.03 L347.80 245.14 L348.80 245.24 L349.80 245.34 L350.80 245.44 L351.80 245.54 L352.80 245.64 L353.80 245.74 L354.80 245.83 L355.80 245.93 L356.80 246.02 L357.80 246.11 L358.80 246.20 L359.80 246.29 L360.80 246.38 L361.80 246.47 L362.80 246.56 L363.80 246.64 L364.80 246.72 L365.80 246.81 L366.80 246.89 L367.80 246.97 L368.80 247.05 L369.80 247.13 L370.80 247.21 L371.80 247.28 L372.80 247.36 L373.80 247.43 L374.80 247.51 L375.80 247.58 L376.80 247.65 L377.80 247.72 L378.80 247.79 L379.80 247.86 L380.80 247.93 L381.80 248.00 L382.80 248.07 L383.80 248.13 L384.80 248.20 L385.80 248.26 L386.80 248.32 L387.80 248.39 L388.80 248.45 L389.80 248.51 L390.80 248.57 L391.80 248.63 L392.80 248.69 L393.80 248.75 L394.80 248.80 L395.80 248.86 L396.80 248.92 L397.80 248.97 L398.80 249.03 L399.80 249.08 L400.80 249.13 L401.80 249.18 L402.80 249.24 L403.80 249.29 L404.80 249.34 L405.80 249.39 L406.80 249.44 L407.80 249.49 L408.80 249.53 L409.80 249.58 L410.80 249.63 L411.80 249.68 L412.80 249.72 L413.80 249.77 L414.80 249.81 L415.80 249.85 L416.80 249.90 L417.80 249.94 L418.80 249.98 L419.80 250.03 L420.80 250.07 L421.80 250.11 L422.80 250.15 L423.80 250.19 L424.80 250.23 L425.80 250.27 L426.80 250.31 L427.80 250.34 L428.80 250.38 L429.50 250.41" stroke="#44AB38"/>
<path d="M56.80 231.41 L57.80 230.55 L58.80 229.71 L59.80 228.91 L60.80 228.13 L61.80 227.38 L62.80 226.67 L63.80 225.98 L64.80 225.33 L65.80 224.72 L66.80 224.14 L67.80 223.59 L68.80 223.08 L69.80 222.62 L70.80 222.19 L71.80 221.80 L72.80 221.46 L73.80 221.15 L74.80 220.89 L75.80 220.68 L76.80 220.51 L77.80 220.38 L78.80 220.29 L79.80 220.23 L80.80 220.21 L81.80 220.23 L82.80 220.27 L83.80 220.34 L84.80 220.44 L85.80 220.56 L86.80 220.71 L87.80 220.88 L88.80 221.06 L89.80 221.27 L90.80 221.48 L91.80 221.72 L92.80 221.97 L93.80 222.23 L94.80 222.51 L95.80 222.80 L96.80 223.10 L97.80 223.42 L98.80 223.74 L99.80 224.07 L100.80 224.41 L101.80 224.75 L102.80 225.11 L103.80 225.47 L104.80 225.83 L105.80 226.20 L106.80 226.57 L107.80 226.94 L108.80 227.32 L109.80 227.70 L110.80 228.07 L111.80 228.45 L112.80 228.82 L113.80 229.19 L114.80 229.56 L115.80 229.92 L116.80 230.28 L117.80 230.63 L118.80 230.98 L119.80 231.32 L120.80 231.65 L121.80 231.98 L122.80 232.30 L123.80 232.61 L124.80 232.92 L125.80 233.22 L126.80 233.52 L127.80 233.80 L128.80 234.09 L129.80 234.36 L130.80 234.62 L131.80 234.88 L132.80 235.13 L133.80 235.38 L134.80 235.61 L135.80 235.84 L136.80 236.06 L137.80 236.27 L138.80 236.48 L139.80 236.67 L140.80 236.86 L141.80 237.04 L142.80 237.21 L143.80 237.37 L144.80 237.52 L145.80 237.66 L146.80 237.79 L147.80 237.92 L148.80 238.03 L149.80 238.14 L150.80 238.24 L151.80 238.32 L152.80 238.40 L153.80 238.47 L154.80 238.52 L155.80 238.57 L156.80 238.61 L157.80 238.63 L158.80 238.65 L159.80 238.65 L160.80 238.65 L161.80 238.63 L162.80 238.60 L163.80 238.56 L164.80 238.51 L165.80 238.45 L166.80 238.38 L167.80 238.30 L168.80 238.20 L169.80 238.09 L170.80 237.97 L171.80 237.84 L172.80 237.70 L173.80 237.54 L174.80 237.38 L175.80 237.20 L176.80 237.00 L177.80 236.80 L178.80 236.58 L179.80 236.35 L180.80 236.12 L181.80 235.88 L182.80 235.65 L183.80 235.42 L184.80 235.21 L185.80 235.01 L186.80 234.83 L187.80 234.67 L188.80 234.55 L189.80 234.45 L190.80 234.39 L191.80 234.38 L192.80 234.40 L193.80 234.48 L194.80 234.62 L195.80 234.80 L196.80 235.05 L197.80 235.33 L198.80 235.66 L199.80 236.03 L200.80 236.43 L201.80 236.85 L202.80 237.30 L203.80 237.76 L204.80 238.23 L205.80 238.71 L206.80 239.20 L207.80 239.68 L208.80 240.16 L209.80 240.64 L210.80 241.11 L211.80 241.57 L212.80 242.02 L213.80 242.45 L214.80 242.86 L215.80 243.26 L216.80 243.63 L217.80 243.97 L218.80 244.29 L219.80 244.57 L220.80 244.82 L221.80 245.04 L222.80 245.23 L223.80 245.40 L224.80 245.57 L225.80 245.72 L226.80 245.87 L227.80 246.02 L228.80 246.17 L229.80 246.32 L230.80 246.46 L231.80 246.60 L232.80 246.74 L233.80 246.88 L234.80 247.01 L235.80 247.13 L236.80 247.23 L237.80 247.33 L238.80 247.42 L239.80 247.51 L240.80 247.60 L241.80 247.68 L242.80 247.76 L243.80 247.84 L244.80 247.92 L245.80 248.00 L246.80 248.07 L247.80 248.14 L248.80 248.21 L249.80 248.28 L250.80 248.35 L251.80 248.42 L252.80 248.49 L253.80 248.55 L254.80 248.62 L255.80 248.68 L256.80 248.74 L257.80 248.80 L258.80 248.86 L259.80 248.92 L260.80 248.98 L261.80 249.04 L262.80 249.10 L263.80 249.16 L264.80 249.21 L265.80 249.27 L266.80 249.32 L267.80 249.38 L268.80 249.43 L269.80 249.48 L270.80 249.53 L271.80 249.59 L272.80 249.64 L273.80 249.69 L274.80 249.74 L275.80 249.79 L276.80 249.83 L277.80 249.88 L278.80 249.93 L279.80 249.98 L280.80 250.02 L281.80 250.07 L282.80 250.11 L283.80 250.16 L284.80 250.20 L285.80 250.25 L286.80 250.29 L287.80 250.33 L288.80 250.37 L289.80 250.42 L290.80 250.46 L291.80 250.50 L292.80 250.54 L293.80 250.58 L294.80 250.62 L295.80 250.66 L296.80 250.69 L297.80 250.73 L298.80 250.77 L299.80 250.81 L300.80 250.84 L301.80 250.88 L302.80 250.92 L303.80 250.95 L304.80 250.99 L305.80 251.02 L306.80 251.06 L307.80 251.09 L308.80 251.12 L309.80 251.16 L310.80 251.19 L311.80 251.22 L312.80 251.25 L313.80 251.28 L314.80 251.32 L315.80 251.35 L316.80 251.38 L317.80 251.41 L318.80 251.44 L319.80 251.47 L320.80 251.50 L321.80 251.53 L322.80 251.55 L323.80 251.58 L324.80 251.61 L325.80 251.64 L326.80 251.66 L327.80 251.69 L328.80 251.72 L329.80 251.74 L330.80 251.77 L331.80 251.80 L332.80 251.82 L333.80 251.85 L334.80 251.87 L335.80 251.90 L336.80 251.92 L337.80 251.94 L338.80 251.97 L339.80 251.99 L340.80 252.01 L341.80 252.04 L342.80 252.06 L343.80 252.08 L344.80 252.10 L345.80 252.13 L346.80 252.15 L347.80 252.17 L348.80 252.19 L349.80 252.21 L350.80 252.23 L351.80 252.25 L352.80 252.27 L353.80 252.29 L354.80 252.31 L355.80 252.33 L356.80 252.35 L357.80 252.37 L358.80 252.39 L359.80 252.41 L360.80 252.43 L361.80 252.44 L362.80 252.46 L363.80 252.48 L364.80 252.50 L365.80 252.52 L366.80 252.53 L367.80 252.55 L368.80 252.57 L369.80 252.58 L370.80 252.60 L371.80 252.62 L372.80 252.63 L373.80 252.65 L374.80 252.66 L375.80 252.68 L376.80 252.69 L377.80 252.71 L378.80 252.72 L379.80 252.74 L380.80 252.75 L381.80 252.77 L382.80 252.78 L383.80 252.80 L384.80 252.81 L385.80 252.82 L386.80 252.84 L387.80 252.85 L388.80 252.86 L389.80 252.88 L390.80 252.89 L391.80 252.90 L392.80 252.92 L393.80 252.93 L394.80 252.94 L395.80 252.95 L396.80 252.97 L397.80 252.98 L398.80 252.99 L399.80 253.00 L400.80 253.01 L401.80 253.02 L402.80 253.04 L403.80 253.05 L404.80 253.06 L405.80 253.07 L406.80 253.08 L407.80 253.09 L408.80 253.10 L409.80 253.11 L410.80 253.12 L411.80 253.13 L412.80 253.14 L413.80 253.15 L414.80 253.16 L415.80 253.17 L416.80 253.18 L417.80 253.19 L418.80 253.20 L419.80 253.21 L420.80 253.22 L421.80 253.23 L422.80 253.24 L423.80 253.25 L424.80 253.26 L425.80 253.26 L426.80 253.27 L427.80 253.28 L428.80 253.29 L429.50 253.30" stroke="#03528A"/>
</g>
<g stroke="#000" stroke-width="1.6" fill="none">
<line x1="102.7" y1="197.6" x2="104" y2="34.5"/>
<polyline points="98.5,43.2 104,33.6 109.5,43.2" stroke-linejoin="miter" stroke-linecap="round"/>
</g>
<g stroke="#2E8FD6" stroke-width="1.8" fill="none" stroke-linecap="round" stroke-linejoin="round">
<line x1="79.3" y1="217.1" x2="100.5" y2="200.6"/>
<polyline points="89.2,202.2 101,200.3 96.4,210.4"/>
</g>
<g font-size="12.3" fill="#555" stroke="#555" stroke-width="0.25">
<line x1="456.5" y1="18.2" x2="488.7" y2="18.2" stroke="#2891D5" stroke-width="2.8"/>
<text x="490.4" y="22.6" textLength="57.2" lengthAdjust="spacingAndGlyphs">2 uM DNA</text>
<line x1="456.5" y1="57.0" x2="488.7" y2="57.0" stroke="#F77418" stroke-width="2.8"/>
<text x="490.4" y="61.4" textLength="57.6" lengthAdjust="spacingAndGlyphs">1 uM DNA</text>
<line x1="456.5" y1="95.3" x2="488.7" y2="95.3" stroke="#9E9E9E" stroke-width="2.8"/>
<text x="490.4" y="99.7" textLength="38.5" lengthAdjust="spacingAndGlyphs">0.5 uM</text>
<text x="490.4" y="116.1" textLength="24.5" lengthAdjust="spacingAndGlyphs">DNA</text>
<line x1="456.5" y1="134.2" x2="488.7" y2="134.2" stroke="#FFBC00" stroke-width="2.8"/>
<text x="490.4" y="138.6" textLength="45.4" lengthAdjust="spacingAndGlyphs">0.25 uM</text>
<text x="490.4" y="155.0" textLength="24.5" lengthAdjust="spacingAndGlyphs">DNA</text>
<line x1="456.5" y1="173.1" x2="488.7" y2="173.1" stroke="#2866BE" stroke-width="2.8"/>
<text x="490.4" y="177.5" textLength="45.4" lengthAdjust="spacingAndGlyphs">0.16 uM</text>
<text x="490.4" y="193.9" textLength="24.5" lengthAdjust="spacingAndGlyphs">DNA</text>
<line x1="456.5" y1="211.6" x2="488.7" y2="211.6" stroke="#44AB38" stroke-width="2.8"/>
<text x="490.4" y="216.0" textLength="52.4" lengthAdjust="spacingAndGlyphs">0.125 uM</text>
<text x="490.4" y="232.4" textLength="24.5" lengthAdjust="spacingAndGlyphs">DNA</text>
<line x1="456.5" y1="250.1" x2="488.7" y2="250.1" stroke="#03528A" stroke-width="2.8"/>
<text x="490.4" y="254.5" textLength="41.7" lengthAdjust="spacingAndGlyphs">no DNA</text>
</g>
<text x="242" y="301.6" font-size="16" font-weight="bold" fill="#000" text-anchor="middle" textLength="128.5" lengthAdjust="spacingAndGlyphs">Wavelength (nm)</text>
<text transform="translate(14.5,131) rotate(-90)" x="0" y="0" font-size="16" font-weight="bold" fill="#000" text-anchor="middle" textLength="170" lengthAdjust="spacingAndGlyphs">Fluorescence Intensity</text>
</svg>
</body></html>
